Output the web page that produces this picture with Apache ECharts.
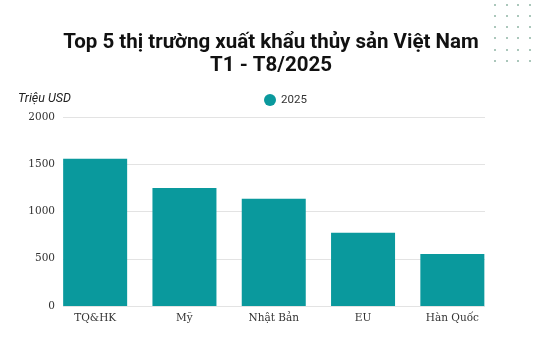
<!DOCTYPE html>
<html><head><meta charset="utf-8">
<script src="https://cdn.jsdelivr.net/npm/echarts@6/dist/echarts.min.js"></script>
<style>html,body{margin:0;padding:0;background:#fff}#c{width:542px;height:344px}</style>
</head><body><div id="c"></div>
<script>
const categories = ['TQ&HK', 'Mỹ', 'Nhật Bản', 'EU', 'Hàn Quốc'];
const values2025 = [1559, 1249, 1135, 776, 550];
const seriesName = '2025';
const yTicks = [0, 500, 1000, 1500, 2000];

const chart = echarts.init(document.getElementById('c'));
const dots = [];
[495, 507, 518, 530].forEach(x => [5, 16, 27, 38, 50, 61].forEach(y => dots.push({
  type: 'circle', shape: {cx: x, cy: y, r: 1}, style: {fill: '#8fb5a5'}, silent: true
})));
chart.setOption({
  animation: false,
  title: {
    text: 'Top 5 thị trường xuất khẩu thủy sản Việt Nam\nT1 - T8/2025',
    left: 'center', top: 26,
    textStyle: {fontFamily: 'Roboto', fontWeight: 'bold', fontSize: 20.5, lineHeight: 23, color: '#111'}
  },
  graphic: dots.concat([{
    type: 'text', left: 18, top: 92,
    style: {text: 'Triệu USD', fontFamily: 'Roboto', fontStyle: 'italic', fontSize: 12.5, fill: '#222'}
  }]),
  legend: {
    top: 89, left: 259, icon: 'circle', itemWidth: 12, itemHeight: 12, itemGap: 6,
    textStyle: {fontFamily: 'Roboto', fontSize: 11.5, color: '#333'},
    data: [seriesName]
  },
  grid: [
    {left: 50.5, right: 45, top: 117, bottom: 38},
    {left: 63, right: 57, top: 117, bottom: 38}
  ],
  xAxis: [
    {type: 'category', gridIndex: 0, data: categories,
     axisLine: {show: false}, axisTick: {show: false},
     axisLabel: {fontFamily: 'DejaVu Serif', fontSize: 10.5, color: '#333', margin: 7}},
    {type: 'category', gridIndex: 1, data: categories, show: false}
  ],
  yAxis: [
    {type: 'value', gridIndex: 0, min: 0, max: 2000, interval: 500, show: false},
    {type: 'value', gridIndex: 1, min: yTicks[0], max: yTicks[yTicks.length - 1], interval: 500,
     axisLine: {show: false}, axisTick: {show: false},
     axisLabel: {fontFamily: 'DejaVu Serif', fontSize: 10.5, color: '#333', margin: 8, formatter: v => String(v)},
     splitLine: {lineStyle: {color: '#e3e3e3', width: 1}}}
  ],
  series: [{
    name: seriesName, type: 'bar', xAxisIndex: 0, yAxisIndex: 0,
    data: values2025, barWidth: 64, itemStyle: {color: '#0a999d'}
  }]
});
</script></body></html>
